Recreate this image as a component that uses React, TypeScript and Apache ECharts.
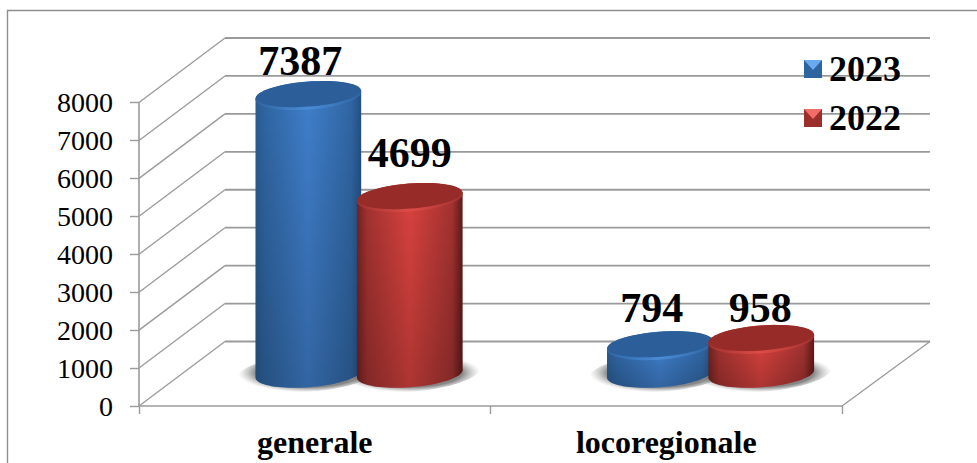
import React, { useEffect, useRef } from "react";
import * as echarts from "echarts";

const categories = ["generale", "locoregionale"];
const years = ["2023", "2022"];
const values2023 = [7387, 794];
const values2022 = [4699, 958];
const yTicks = [0, 1000, 2000, 3000, 4000, 5000, 6000, 7000, 8000];

const FONT = '"Liberation Serif", serif';
const LINE = "#9a9a9a";
const DEPTH_X = 86;
const DEPTH_Y = -64.5;
const RX = 53;
const RY = 13.5;
const TILT = (4.4 * Math.PI) / 180;

const palette = [
  { edgeL: "#2a5b92", near: "#3066a3", mid: "#3f7ecb", edgeR: "#234f84", cap: "#2c5e99", lip: "#4a8cd8", icon: "#2f659f", bevel: "#6aaaf0" },
  { edgeL: "#6f2220", near: "#a23230", mid: "#d8423e", edgeR: "#5c1917", cap: "#962b28", lip: "#de4c47", icon: "#9c2e2b", bevel: "#f26c68" },
];

// label placement relative to the cylinder's top: [series][category] = [dx, gap]
const labelNudge = [
  [[-8, 8.5], [-8, 11.5]],
  [[0, 18.5], [-1, 5.5]],
];

function ellipsePts(cx: number, cy: number, rx: number, ry: number, from: number, to: number, n = 40) {
  const pts: number[][] = [];
  const ux = Math.cos(TILT), uy = -Math.sin(TILT), vx = Math.sin(TILT), vy = Math.cos(TILT);
  for (let i = 0; i <= n; i++) {
    const t = from + ((to - from) * i) / n;
    const a = rx * Math.cos(t), b = ry * Math.sin(t);
    pts.push([cx + a * ux + b * vx, cy + a * uy + b * vy]);
  }
  return pts;
}

function barCentre(api: any, seriesIdx: number) {
  const p = api.coord([api.value(0), api.value(1)]);
  const base = api.coord([api.value(0), 0]);
  const band = api.size([1, 0])[0];
  const pitch = band * 0.2885;
  const cx = p[0] + DEPTH_X / 2 + 1.3 + (seriesIdx === 0 ? -pitch / 2 : pitch / 2);
  const cyBase = base[1] + DEPTH_Y / 2;
  const cyTop = p[1] + DEPTH_Y / 2 + 2;
  return { cx, cyBase, cyTop };
}

const makeCylinder = (seriesIdx: number) => (params: any, api: any) => {
  const { cx, cyBase, cyTop } = barCentre(api, seriesIdx);
  const c = palette[seriesIdx];
  const bottomHalf = ellipsePts(cx, cyBase, RX, RY, 0, Math.PI);
  const topHalf = ellipsePts(cx, cyTop, RX, RY, Math.PI, 2 * Math.PI);
  const body = [...bottomHalf, ...topHalf];
  const side = new echarts.graphic.LinearGradient(
    cx - RX, 0, cx + RX, 0,
    [
      { offset: 0, color: c.edgeL },
      { offset: 0.1, color: c.near },
      { offset: 0.5, color: c.mid },
      { offset: 0.9, color: c.near },
      { offset: 1, color: c.edgeR },
    ],
    true
  );
  const fade = new echarts.graphic.LinearGradient(
    0, cyTop, 0, cyBase + RY,
    [
      { offset: 0, color: "rgba(0,0,0,0)" },
      { offset: 1, color: "rgba(0,0,0,0.2)" },
    ],
    true
  );
  const lipFill = new echarts.graphic.LinearGradient(
    cx - RX, 0, cx + RX, 0,
    [
      { offset: 0, color: c.near },
      { offset: 0.5, color: c.lip },
      { offset: 1, color: c.near },
    ],
    true
  );
  const nudge = labelNudge[seriesIdx][api.value(0)];
  return {
    type: "group",
    children: [
      { type: "polygon", shape: { points: body }, style: { fill: side } },
      { type: "polygon", shape: { points: body }, style: { fill: fade } },
      { type: "polygon", shape: { points: ellipsePts(cx, cyTop, RX, RY + 0.5, 0, 2 * Math.PI, 72) }, style: { fill: lipFill } },
      { type: "polygon", shape: { points: ellipsePts(cx, cyTop - 1.4, RX - 0.3, RY - 1, 0, 2 * Math.PI, 72) }, style: { fill: c.cap } },
      {
        type: "text",
        style: {
          text: String(api.value(1)),
          x: cx + nudge[0],
          y: cyTop - RY - 0.6 - nudge[1] + 9,
          align: "center",
          verticalAlign: "bottom",
          fontFamily: FONT,
          fontWeight: "bold",
          fontSize: 42,
          fill: "#000",
        },
      },
    ],
  };
};

const makeShadow = (seriesIdx: number) => (params: any, api: any) => {
  const { cx, cyBase } = barCentre(api, seriesIdx);
  return {
    type: "polygon",
    shape: { points: ellipsePts(cx, cyBase - 1, RX * 1.34, 19, 0, 2 * Math.PI, 72) },
    style: {
      fill: new echarts.graphic.RadialGradient(0.5, 0.5, 0.5, [
        { offset: 0, color: "rgba(80,80,80,0.9)" },
        { offset: 0.74, color: "rgba(105,105,105,0.8)" },
        { offset: 1, color: "rgba(170,170,170,0)" },
      ]),
    },
  };
};

const renderWall = (params: any, api: any) => {
  const sys = params.coordSys;
  const v = api.value(1);
  const y = api.coord([0, v])[1];
  const x0 = sys.x;
  const xBack = x0 + DEPTH_X;
  const xEnd = sys.x + sys.width + DEPTH_X + 2;
  const kids: any[] = [
    { type: "line", shape: { x1: x0, y1: y, x2: xBack, y2: y + DEPTH_Y }, style: { stroke: LINE, lineWidth: 1.3 } },
    { type: "line", shape: { x1: xBack, y1: y + DEPTH_Y, x2: xEnd, y2: y + DEPTH_Y }, style: { stroke: LINE, lineWidth: 1.8 } },
  ];
  if (v === 0) {
    kids.push({
      type: "line",
      shape: { x1: sys.x + sys.width, y1: y, x2: xEnd, y2: y + DEPTH_Y },
      style: { stroke: LINE, lineWidth: 1.3 },
    });
  }
  return { type: "group", children: kids };
};

function bevel(x: number, y: number, color: string) {
  return {
    type: "polygon",
    shape: { points: [[x, y], [x + 18, y], [x + 9, y + 10]] },
    style: { fill: color },
    z: 100,
  };
}

export default function App() {
  const ref = useRef<HTMLDivElement>(null);
  useEffect(() => {
    if (!ref.current) return;
    const chart = echarts.init(ref.current, undefined, { renderer: "svg" });
    const axisLine = { show: true, onZero: false, lineStyle: { color: LINE, width: 1.6 } };
    const toPairs = (vals: number[]) => vals.map((v, i) => [i, v]);
    chart.setOption({
      animation: false,
      backgroundColor: "#ffffff",
      tooltip: { show: false },
      grid: { left: 139, right: 135, top: 102.5, bottom: 57 },
      xAxis: {
        type: "category",
        data: categories,
        axisLine,
        axisTick: { show: true, length: 8, alignWithLabel: false, lineStyle: { color: LINE, width: 1.4 } },
        axisLabel: { color: "#000", fontFamily: FONT, fontWeight: "bold", fontSize: 32, margin: 20 },
        splitLine: { show: false },
      },
      yAxis: {
        type: "value",
        min: 0,
        max: 8000,
        interval: 1000,
        axisLine,
        axisTick: { show: true, length: 9, lineStyle: { color: LINE, width: 1.4 } },
        axisLabel: { color: "#000", fontFamily: FONT, fontSize: 28, margin: 26, formatter: (v: number) => String(v) },
        splitLine: { show: false },
      },
      legend: {
        orient: "vertical",
        left: 804,
        top: 51,
        itemWidth: 18,
        itemHeight: 18,
        itemGap: 13,
        padding: 0,
        selectedMode: false,
        textStyle: { color: "#000", fontFamily: FONT, fontWeight: "bold", fontSize: 36, padding: [0, 0, 0, 2] },
        data: years.map((name, i) => ({ name, icon: "rect", itemStyle: { color: palette[i].icon } })),
      },
      graphic: [
        {
          type: "polyline",
          shape: { points: [[7.5, 463], [7.5, 10.5], [977, 10.5]] },
          style: { stroke: "#8f8f8f", lineWidth: 1.4, fill: "none" },
        },
        bevel(804, 60, palette[0].bevel),
        bevel(804, 109, palette[1].bevel),
      ],
      series: [
        { type: "custom", name: "wall", z: 1, silent: true, data: yTicks.map((v) => [0, v]), renderItem: renderWall },
        { type: "custom", name: "shadow2023", z: 2, silent: true, data: toPairs(values2023), renderItem: makeShadow(0) },
        { type: "custom", name: "shadow2022", z: 2, silent: true, data: toPairs(values2022), renderItem: makeShadow(1) },
        { type: "custom", name: years[0], z: 3, silent: true, data: toPairs(values2023), renderItem: makeCylinder(0), itemStyle: { color: palette[0].icon } },
        { type: "custom", name: years[1], z: 4, silent: true, data: toPairs(values2022), renderItem: makeCylinder(1), itemStyle: { color: palette[1].icon } },
      ],
    });
    return () => chart.dispose();
  }, []);
  return <div ref={ref} style={{ position: "absolute", left: 0, top: 0, width: 977, height: 463 }} />;
}
